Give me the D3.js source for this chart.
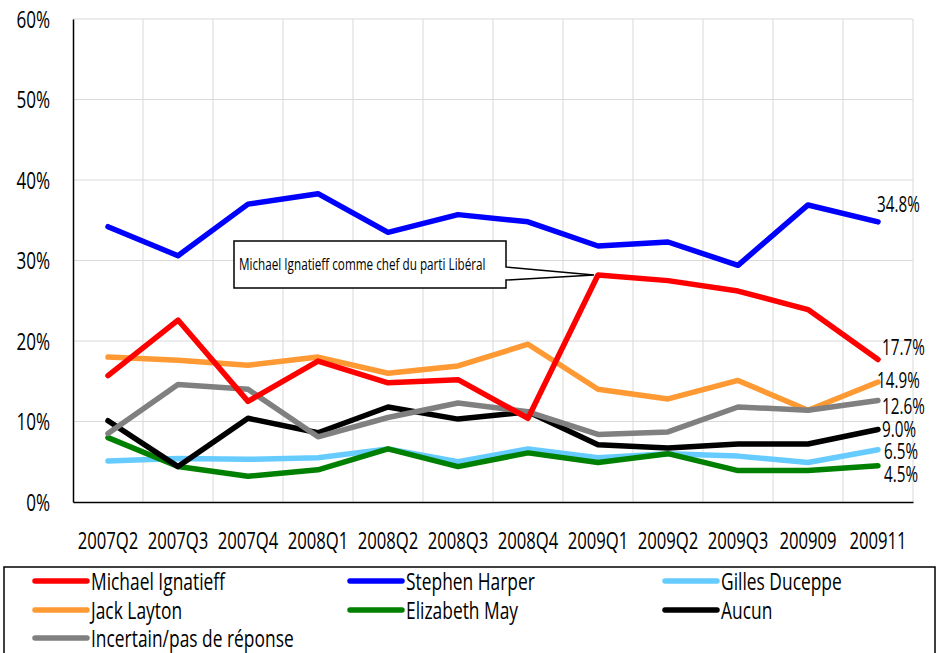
<!DOCTYPE html>
<html><head><meta charset="utf-8">
<script src="https://cdn.jsdelivr.net/npm/d3@7"></script>
<style>
body{margin:0;background:#fff;}
text{font-family:"Open Sans","Noto Sans",sans-serif;fill:#000;font-weight:500;}
</style></head>
<body>
<svg id="c" width="938" height="653"></svg>
<script>
const categories = ["2007Q2","2007Q3","2007Q4","2008Q1","2008Q2","2008Q3","2008Q4","2009Q1","2009Q2","2009Q3","200909","200911"];
const yTicks = [0,10,20,30,40,50,60];
const ignatieff = [15.7,22.6,12.5,17.5,14.8,15.2,10.4,28.2,27.5,26.2,23.9,17.7];
const harper    = [34.2,30.6,37.0,38.3,33.5,35.7,34.8,31.8,32.3,29.4,36.9,34.8];
const duceppe   = [5.1,5.4,5.3,5.5,6.6,5.0,6.6,5.5,6.0,5.7,4.9,6.5];
const layton    = [18.0,17.6,17.0,18.0,16.0,16.9,19.6,14.0,12.8,15.1,11.4,14.9];
const may       = [8.0,4.4,3.2,4.0,6.6,4.4,6.1,4.9,6.0,3.9,3.9,4.5];
const aucun     = [10.1,4.4,10.4,8.6,11.8,10.3,11.2,7.1,6.7,7.2,7.2,9.0];
const incertain = [8.5,14.6,14.0,8.1,10.5,12.3,11.2,8.4,8.7,11.8,11.4,12.6];
const seriesNames = ["Michael Ignatieff","Stephen Harper","Gilles Duceppe","Jack Layton","Elizabeth May","Aucun","Incertain/pas de réponse"];
const seriesColors = ["#ff0000","#0000ff","#66ccff","#ff9933","#008000","#000000","#808080"];
const annotationText = "Michael Ignatieff comme chef du parti Libéral";

const seriesData = [ignatieff,harper,duceppe,layton,may,aucun,incertain];
const drawOrder = [3,2,4,5,6,0,1];
const endLabelDy = [-12,-17,2,-2,9,0,6];
const endLabelDx = [4,-1,6,-1,6,4,4];

const SX = 0.71; // horizontal squeeze to mimic a condensed face
function txt(parent, x, y, str, size, anchor){
  return parent.append("text")
    .attr("transform",`translate(${x},${y}) scale(${SX},1)`)
    .attr("dy","0.35em").attr("font-size",size)
    .attr("text-anchor",anchor||"start").text(str);
}

const svg = d3.select("#c");
const L=73,R=913,T=19,B=502;
const x = d3.scaleBand().domain(categories).range([L,R]);
const y = d3.scaleLinear().domain([0,60]).range([B,T]);
const cx = d => x(d)+x.bandwidth()/2;

// gridlines
const g = svg.append("g");
g.selectAll("line.h").data(yTicks.slice(1)).enter().append("line")
 .attr("x1",L).attr("x2",R).attr("y1",d=>y(d)).attr("y2",d=>y(d))
 .attr("stroke","#d9d9d9").attr("stroke-width",1);
g.selectAll("line.v").data(categories).enter().append("line")
 .attr("x1",d=>x(d)+x.bandwidth()).attr("x2",d=>x(d)+x.bandwidth())
 .attr("y1",T).attr("y2",B).attr("stroke","#d9d9d9").attr("stroke-width",1);

// axes
const yAxis = d3.axisLeft(y).tickValues(yTicks).tickFormat(d=>d+"%").tickSize(0).tickPadding(0);
const ya = svg.append("g").attr("transform",`translate(${L},0)`).call(yAxis);
ya.select(".domain").attr("stroke","#000").attr("stroke-width",1.5);
ya.selectAll(".tick text").attr("x",null).attr("dy","0.35em")
  .attr("transform",`translate(-23,0) scale(${SX},1)`).attr("font-size",24)
  .attr("text-anchor","end").style("font-family",null);
const xAxis = d3.axisBottom(x).tickSize(0).tickPadding(0);
const xa = svg.append("g").attr("transform",`translate(0,${B})`).call(xAxis);
xa.select(".domain").attr("stroke","#000").attr("stroke-width",1.5);
xa.selectAll(".tick text").attr("y",null).attr("dy","0.35em")
  .attr("transform",`translate(0,39) scale(${SX},1)`).attr("font-size",23.5)
  .style("font-family",null);
svg.selectAll(".tick text").attr("fill","#000");

// lines
const line = d3.line().x((d,i)=>cx(categories[i])).y(d=>y(d));
drawOrder.forEach(k=>{
  svg.append("path").datum(seriesData[k]).attr("d",line)
   .attr("fill","none").attr("stroke",seriesColors[k]).attr("stroke-width",5.5)
   .attr("stroke-linejoin","round").attr("stroke-linecap","round");
});

// end labels
seriesData.forEach((s,k)=>{
  const last = s[s.length-1];
  txt(svg, cx(categories[categories.length-1])+endLabelDx[k], y(last)+endLabelDy[k],
      last.toFixed(1)+"%", 21.5);
});

// annotation callout
const tipX = cx("2009Q1")-4, tipY = y(ignatieff[7]);
const bx0=234,by0=241,bx1=506,by1=288;
svg.append("path")
 .attr("d",`M${bx0},${by0}H${bx1}V${by0+26}L${tipX},${tipY}L${bx1},${by0+39}V${by1}H${bx0}Z`)
 .attr("fill","#fff").attr("stroke","#000").attr("stroke-width",1.5);
txt(svg, bx0+5, (by0+by1)/2, annotationText, 16.5);

// legend
svg.append("rect").attr("x",4).attr("y",567).attr("width",931).attr("height",100)
 .attr("fill","#fff").attr("stroke","#000").attr("stroke-width",1.5);
const colX=[35,350,665], rowY=[581,610,638];
seriesNames.forEach((n,k)=>{
  const lx=colX[k%3], ly=rowY[Math.floor(k/3)];
  svg.append("line").attr("x1",lx).attr("x2",lx+52).attr("y1",ly).attr("y2",ly)
   .attr("stroke",seriesColors[k]).attr("stroke-width",5.5).attr("stroke-linecap","round");
  txt(svg, lx+56, ly, n, 24.5);
});
</script>
</body></html>
